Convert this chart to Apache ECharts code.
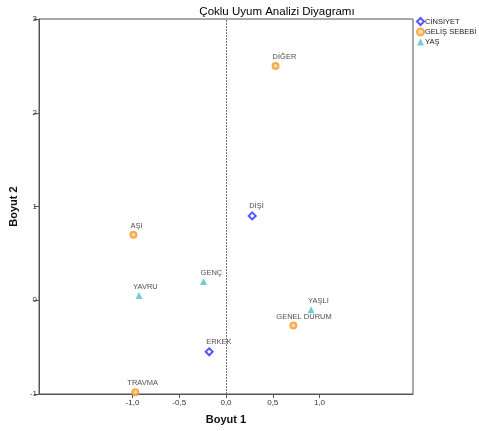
<!DOCTYPE html>
<html>
<head>
<meta charset="utf-8">
<script src="https://cdn.jsdelivr.net/npm/echarts@6/dist/echarts.min.js"></script>
<style>
html, body { margin: 0; padding: 0; background: #fff; }
#chart { width: 479px; height: 431px; }
</style>
</head>
<body>
<div id="chart"></div>
<script>
// kategoriler ve koordinatlar (Boyut 1, Boyut 2)
var cinsiyetNames = ['DİŞİ', 'ERKEK'];
var cinsiyetX = [0.28, -0.18];
var cinsiyetY = [0.90, -0.55];

var gelisNames = ['DİĞER', 'AŞI', 'TRAVMA', 'GENEL DURUM'];
var gelisX = [0.53, -0.99, -0.97, 0.72];
var gelisY = [2.50, 0.70, -0.98, -0.27];

var yasNames = ['GENÇ', 'YAVRU', 'YAŞLI'];
var yasX = [-0.24, -0.93, 0.91];
var yasY = [0.20, 0.05, -0.10];

var xTicks = [-1, -0.5, 0, 0.5, 1];

var fontFam = '"Liberation Sans", Arial, sans-serif';

// bazı etiketler noktaya göre biraz farklı yerde duruyor
var labelShift = { 'GENEL DURUM': -17, 'TRAVMA': -8, 'YAVRU': -6 };

function points(names, xs, ys) {
    var arr = [];
    for (var i = 0; i < names.length; i++) {
        var p = { name: names[i], value: [xs[i], ys[i]] };
        if (labelShift[names[i]] !== undefined) {
            p.label = { offset: [labelShift[names[i]], 4] };
        }
        arr.push(p);
    }
    return arr;
}

var pointLabel = {
    show: true,
    position: 'top',
    align: 'left',
    offset: [-3, 4],
    formatter: '{b}',
    fontSize: 7.5,
    color: '#222',
    fontFamily: fontFam
};

var myChart = echarts.init(document.getElementById('chart'));
var option = {
    animation: false,
    backgroundColor: '#fff',
    title: {
        text: 'Çoklu Uyum Analizi Diyagramı',
        left: 272,
        textAlign: 'center',
        top: 1,
        textStyle: { fontSize: 11.5, fontWeight: 'normal', color: '#000', fontFamily: fontFam }
    },
    legend: {
        orient: 'vertical',
        left: 416,
        top: 12,
        padding: [5, 0, 5, 0],
        itemWidth: 7,
        itemHeight: 7,
        itemGap: 1.5,
        textStyle: { fontSize: 7.5, color: '#222', fontFamily: fontFam, padding: [0, 0, 0, -4] },
        data: ['CİNSİYET', 'GELİŞ SEBEBİ', 'YAŞ']
    },
    grid: {
        left: 37,
        right: 66,
        top: 19,
        bottom: 37,
        show: true,
        borderColor: '#555',
        borderWidth: 1
    },
    xAxis: {
        type: 'value',
        min: -2,
        max: 2,
        name: 'Boyut 1',
        nameLocation: 'middle',
        nameGap: 20,
        nameTextStyle: { fontSize: 11, fontWeight: 'bold', color: '#111', fontFamily: fontFam },
        axisLine: { show: true, onZero: false, lineStyle: { color: '#555' } },
        axisTick: { show: true, length: 4, customValues: xTicks, lineStyle: { color: '#555' } },
        axisLabel: {
            customValues: xTicks,
            fontSize: 8,
            color: '#333',
            margin: 5,
            fontFamily: fontFam,
            formatter: function (v) { return v.toFixed(1).replace('.', ','); }
        },
        splitLine: { show: false }
    },
    yAxis: {
        type: 'value',
        min: -1,
        max: 3,
        interval: 1,
        name: 'Boyut 2',
        nameLocation: 'middle',
        nameGap: 16,
        nameRotate: 90,
        nameTextStyle: { fontSize: 11, fontWeight: 'bold', color: '#111', fontFamily: fontFam },
        axisLine: { show: true, onZero: false, lineStyle: { color: '#555' } },
        axisTick: { show: true, length: 5, lineStyle: { color: '#555' } },
        axisLabel: { fontSize: 8, color: '#333', margin: 2, fontFamily: fontFam },
        splitLine: { show: false }
    },
    series: [
        {
            name: 'CİNSİYET',
            type: 'scatter',
            symbol: 'diamond',
            symbolSize: 7,
            itemStyle: { color: '#fff', borderColor: '#2b2bff', borderWidth: 2 },
            label: pointLabel,
            data: points(cinsiyetNames, cinsiyetX, cinsiyetY),
            markLine: {
                silent: true,
                symbol: 'none',
                label: { show: false },
                lineStyle: { color: '#777', type: [2, 1], width: 1 },
                data: [{ xAxis: 0 }]
            }
        },
        {
            name: 'GELİŞ SEBEBİ',
            type: 'scatter',
            symbol: 'circle',
            symbolSize: 6,
            itemStyle: { color: '#fbd08a', borderColor: '#f39a25', borderWidth: 2 },
            label: pointLabel,
            data: points(gelisNames, gelisX, gelisY)
        },
        {
            name: 'YAŞ',
            type: 'scatter',
            symbol: 'triangle',
            symbolSize: 7,
            itemStyle: { color: '#4cc3c3' },
            label: pointLabel,
            data: points(yasNames, yasX, yasY)
        }
    ]
};
myChart.setOption(option);
</script>
</body>
</html>
